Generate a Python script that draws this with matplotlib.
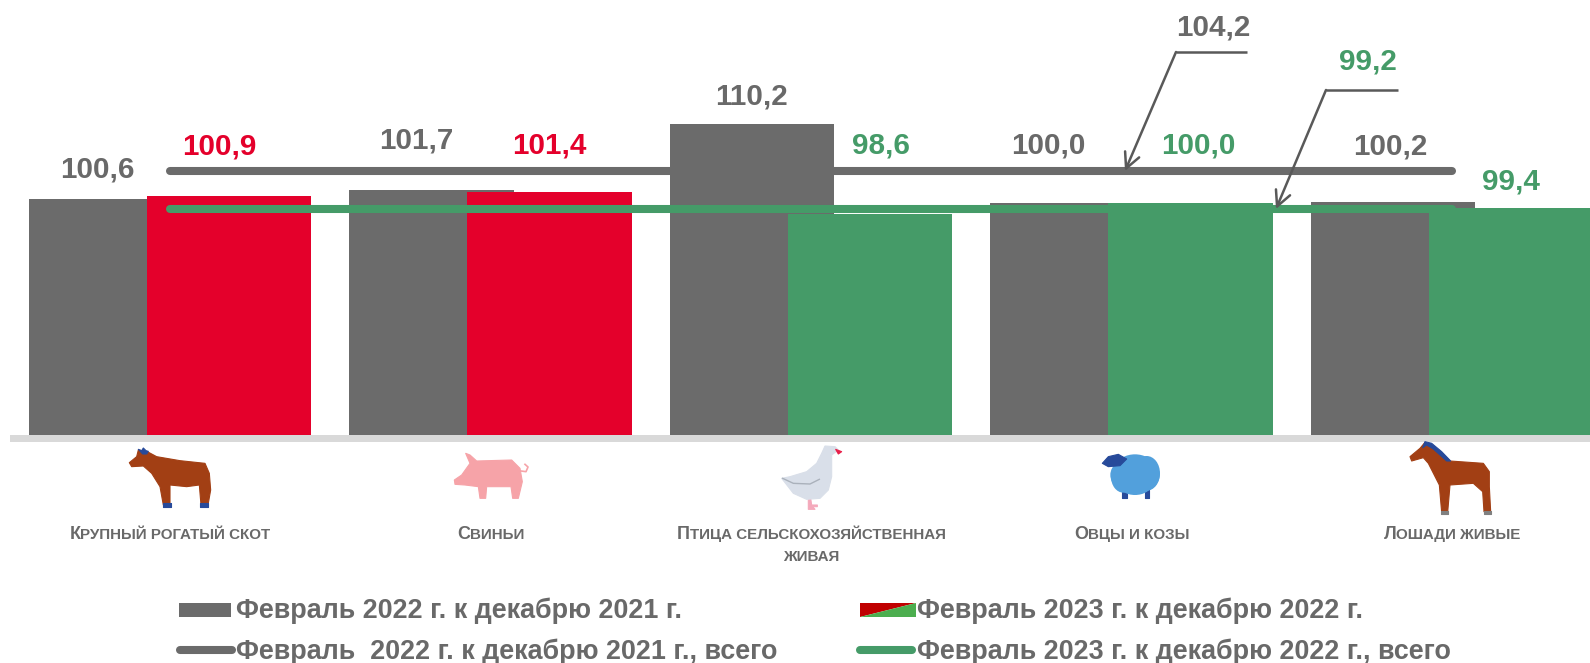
import numpy as np
import matplotlib
matplotlib.use('Agg')
import matplotlib.pyplot as plt
from matplotlib.patches import Polygon, Rectangle, Ellipse

plt.rcParams['font.family'] = ['Liberation Sans', 'DejaVu Sans']

categories = ['Крупный рогатый скот', 'Свиньи', 'Птица сельскохозяйственная\nживая',
              'Овцы и козы', 'Лошади живые']
feb_2022 = [100.6, 101.7, 110.2, 100.0, 100.2]
feb_2023 = [100.9, 101.4, 98.6, 100.0, 99.4]
total_2022 = [104.2, 104.2, 104.2, 104.2, 104.2]
total_2023 = [99.2, 99.2, 99.2, 99.2, 99.2]
legend_labels = ['Февраль 2022 г. к декабрю 2021 г.', 'Февраль 2023 г. к декабрю 2022 г.',
                 'Февраль  2022 г. к декабрю 2021 г., всего', 'Февраль 2023 г. к декабрю 2022 г., всего']

GRAY = '#6b6b6b'
RED = '#e4002b'
GREEN = '#459b68'
TEXT = '#696969'

# label offsets from the bar tops, in pixels
dx_2022 = [-14, -15, -1, -24, -3]
dy_2022 = [29, 50, 28, 58, 55]
dx_2023 = [-10, 0, 11, 8, 0]
dy_2023 = [50, 47, 69, 58, 26]

W, H = 1590, 663
fig = plt.figure(figsize=(W / 100, H / 100), dpi=100)
ax = fig.add_axes([0, (H - 436) / H, 1, 436 / H])
ax.set_xlim(-170 / 320.5, (W - 170) / 320.5)
ax.set_ylim(70, 70 + 436 / 7.76)
ax.axis('off')

x = np.arange(len(categories))
off = 0.184
width = 0.512
colors_2023 = [RED if v > 100.5 else GREEN for v in feb_2023]

ax.bar(x - off, feb_2022, width, color=GRAY, zorder=2)
ax.plot(x, total_2022, color=GRAY, lw=5.8, solid_capstyle='round', zorder=2)
ax.bar(x + off, feb_2023, width, color=colors_2023, zorder=3)
ax.plot(x, total_2023, color=GREEN, lw=5.8, solid_capstyle='round', zorder=4)

for i in x:
    ax.annotate(('%.1f' % feb_2022[i]).replace('.', ','), (i - off, feb_2022[i]),
                xytext=(dx_2022[i], dy_2022[i]), textcoords='offset pixels',
                ha='center', va='center', fontsize=21.3, fontweight='bold', color=TEXT)
    ax.annotate(('%.1f' % feb_2023[i]).replace('.', ','), (i + off, feb_2023[i]),
                xytext=(dx_2023[i], dy_2023[i]), textcoords='offset pixels',
                ha='center', va='center', fontsize=21.3, fontweight='bold', color=colors_2023[i])

# the rest is laid out in pixel coordinates
ov = fig.add_axes([0, 0, 1, 1], zorder=5)
ov.set_xlim(0, W)
ov.set_ylim(H, 0)
ov.axis('off')
ov.patch.set_alpha(0)

ov.add_patch(Rectangle((10, 435), W - 10, 6.5, color='#d9d9d9', lw=0))

# callouts for the totals
ov.text(1213, 27, ('%.1f' % total_2022[0]).replace('.', ','), ha='center', va='center',
        fontsize=21.3, fontweight='bold', color=TEXT)
ov.text(1368, 61, ('%.1f' % total_2023[0]).replace('.', ','), ha='center', va='center',
        fontsize=21.3, fontweight='bold', color=GREEN)
for (x0, x1, y1, x2, y2) in [(1247, 1176, 52, 1125, 171), (1398, 1326, 90, 1276, 209)]:
    ov.plot([x0, x1], [y1, y1], color='#595959', lw=1.8, solid_capstyle='butt')
    ov.annotate('', (x2, y2), (x1, y1),
                arrowprops=dict(arrowstyle='->,head_length=1.1,head_width=0.55', color='#595959',
                                lw=1.8, shrinkA=0, shrinkB=0))


def icon(pts, ox, oy, color):
    pts = np.array(pts, dtype=float) / 3 + [ox, oy]
    ov.add_patch(Polygon(pts, closed=True, fc=color, ec=color, lw=0.8, joinstyle='round'))


def blob(cx, cy, rx, ry, ox, oy, color):
    ov.add_patch(Ellipse((ox + cx / 3, oy + cy / 3), 2 * rx / 3, 2 * ry / 3, fc=color, lw=0))


BROWN = '#a23f14'
NAVY = '#274a9a'
# cow
icon([(55, 30), (82, 35), (110, 50), (180, 62), (255, 70), (268, 100), (272, 150), (264, 195), (243, 195),
      (238, 135), (200, 140), (150, 135), (150, 195), (130, 195), (120, 140), (95, 100), (70, 78), (35, 80),
      (28, 68), (50, 50)], 120, 440, BROWN)
icon([(128, 190), (152, 190), (152, 200), (128, 200)], 120, 440, NAVY)
icon([(240, 190), (264, 190), (264, 200), (240, 200)], 120, 440, NAVY)
icon([(55, 28), (65, 32), (70, 24), (78, 32), (85, 34), (80, 42), (68, 42)], 120, 440, NAVY)
# pig
PINK = '#f6a3a8'
icon([(62, 25), (75, 30), (95, 48), (200, 45), (225, 70), (232, 110), (220, 160), (203, 160), (198, 125),
      (125, 125), (122, 160), (105, 160), (100, 125), (60, 120), (30, 118), (28, 105), (50, 90), (75, 55)],
     445, 445, PINK)
ov.plot(445 + np.array([228, 243, 249, 240]) / 3, 445 + np.array([78, 80, 66, 58]) / 3, color=PINK, lw=1.2)
# goose
icon([(115, 175), (122, 175), (125, 195), (142, 195), (142, 200), (128, 200), (135, 208), (115, 208)],
     770, 440, '#f4a9bb')
icon([(165, 18), (195, 20), (205, 30), (185, 45), (185, 110), (175, 150), (150, 175), (110, 178), (70, 160),
      (35, 115), (60, 110), (110, 95), (140, 70), (155, 40)], 770, 440, '#d9dfe9')
icon([(197, 28), (215, 35), (205, 42)], 770, 440, '#e8204a')
ov.plot(770 + np.array([38, 70, 120, 148]) / 3, 440 + np.array([115, 130, 132, 118]) / 3, color='#aab1bb', lw=1)
# sheep
icon([(82, 135), (95, 135), (95, 160), (82, 160)], 1095, 445, NAVY)
icon([(150, 135), (162, 135), (162, 160), (150, 160)], 1095, 445, NAVY)
for cx, cy, rx, ry in [(120, 90, 74, 56), (85, 95, 37, 48), (155, 85, 40, 52), (120, 60, 52, 32), (120, 120, 48, 30)]:
    blob(cx, cy, rx, ry, 1095, 445, '#52a0dc')
icon([(22, 55), (40, 35), (70, 28), (95, 42), (75, 62), (40, 65)], 1095, 445, NAVY)
# horse
icon([(75, 22), (100, 35), (150, 78), (250, 85), (268, 110), (268, 155), (272, 230), (252, 230), (248, 170),
      (220, 145), (150, 150), (143, 232), (125, 232), (118, 150), (85, 85), (70, 68), (35, 78), (30, 65), (60, 40)],
     1400, 435, BROWN)
icon([(75, 20), (95, 25), (125, 50), (152, 78), (140, 78), (100, 42), (80, 30), (68, 38)], 1400, 435, NAVY)
icon([(124, 228), (144, 228), (144, 238), (124, 238)], 1400, 435, '#808080')
icon([(252, 228), (272, 228), (272, 238), (252, 238)], 1400, 435, '#808080')

# category names, small caps done by hand
rend = fig.canvas.get_renderer()


def small_caps(cx, y, s, first_big=True):
    parts = [(s[0], 13), (s[1:].upper(), 10.9)] if first_big else [(s.upper(), 10.9)]
    texts = [ov.text(0, y, p, fontsize=fs, fontweight='bold', color=TEXT, va='baseline', ha='left')
             for p, fs in parts]
    widths = [t.get_window_extent(rend).width for t in texts]
    left = cx - sum(widths) / 2
    for t, w in zip(texts, widths):
        t.set_x(left)
        left += w


for i, name in enumerate(categories):
    cx = 170 + 320.5 * i
    lines = name.split('\n')
    small_caps(cx, 539, lines[0])
    if len(lines) > 1:
        small_caps(cx, 561, lines[1], first_big=False)

# legend
LEG = 19.4
ov.add_patch(Rectangle((179, 603), 52, 14, color=GRAY, lw=0))
ov.add_patch(Polygon([(860, 603), (916, 603), (860, 617)], color='#c00000', lw=0))
ov.add_patch(Polygon([(916, 603), (916, 617), (860, 617)], color='#4cae4f', lw=0))
ov.plot([180, 232], [650, 650], color=GRAY, lw=5.8, solid_capstyle='round')
ov.plot([860, 912], [650, 650], color=GREEN, lw=5.8, solid_capstyle='round')
ov.text(236, 611, legend_labels[0], fontsize=LEG, fontweight='bold', color=TEXT, va='center')
ov.text(917, 611, legend_labels[1], fontsize=LEG, fontweight='bold', color=TEXT, va='center')
ov.text(236, 651.5, legend_labels[2], fontsize=LEG, fontweight='bold', color=TEXT, va='center')
ov.text(917, 651.5, legend_labels[3], fontsize=LEG, fontweight='bold', color=TEXT, va='center')

fig.savefig('out.png', dpi=100)
